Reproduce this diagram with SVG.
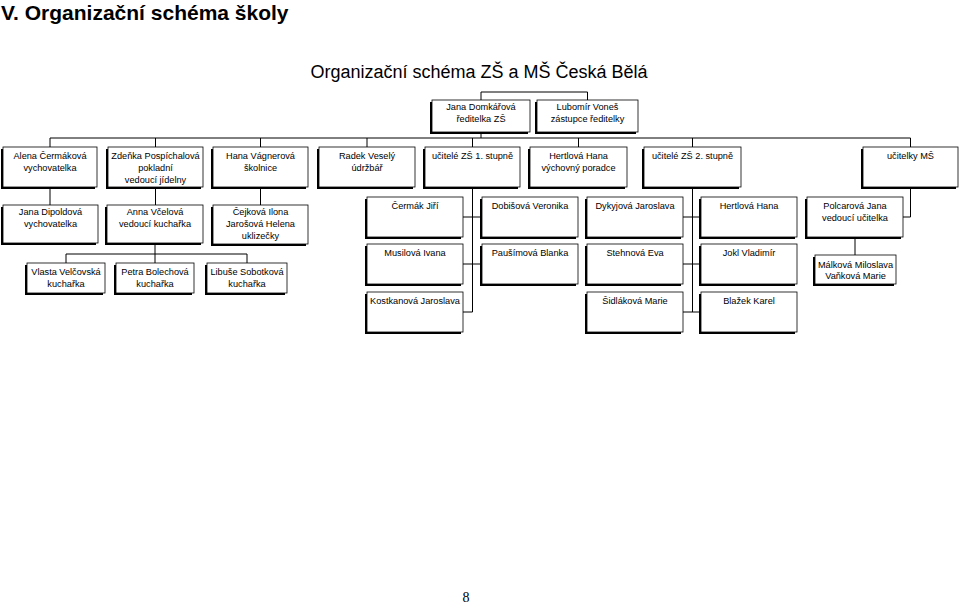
<svg xmlns="http://www.w3.org/2000/svg" width="960" height="609" viewBox="0 0 960 609">
<style>
.sh{fill:#000}
.bx{fill:#fff;stroke:#000;stroke-width:0.8}
.t{font-family:"Liberation Sans",Arial,sans-serif;font-size:9.2px;fill:#000;text-anchor:middle}
.ln{stroke:#000;stroke-width:1;fill:none}
.title{font-family:"Liberation Sans",Arial,sans-serif;font-size:21px;font-weight:bold;fill:#000}
.sub{font-family:"Liberation Sans",Arial,sans-serif;font-size:18px;fill:#000;text-anchor:middle}
.pg{font-family:"Liberation Serif","Times New Roman",serif;font-size:14px;fill:#000;text-anchor:middle}
</style>
<rect width="960" height="609" fill="#fff"/>
<text class="title" x="1" y="20">V. Organizační schéma školy</text>
<text class="sub" x="479" y="78">Organizační schéma ZŠ a MŠ Česká Bělá</text>

<g id="connectors" class="ln">
<path d="M481,100 V92 H587.5 V100"/>
<path d="M481,132 V138"/>
<path d="M50,147 V138 H910.5 V147"/>
<path d="M155.5,138 V147 M260.5,138 V147 M367,138 V147 M472.5,138 V147 M578.5,138 V147 M692.5,138 V147"/>
<path d="M50,187 V205 M155.5,187 V205 M260.5,187 V205"/>
<path d="M155,244 V254 M66,254 H247 M66,254 V263 M155,254 V263 M247,254 V263"/>
<path d="M472.5,187 V312 M463,217 H482 M463,264 H482 M463,312 H472.5"/>
<path d="M692.5,187 V312 M683,217 H701 M683,264 H701 M683,312 H701"/>
<path d="M910.5,187 V217 H903"/>
<path d="M855,237 V255"/>
</g>

<g id="n-reditelka"><rect class="sh" x="430" y="102" width="98" height="32"/><rect class="bx" x="432" y="100" width="98" height="32"/><text class="t" x="481" y="110">Jana Domkářová</text><text class="t" x="481" y="122">ředitelka ZŠ</text></g>
<g id="n-zastupce"><rect class="sh" x="535" y="102" width="101" height="32"/><rect class="bx" x="537" y="100" width="101" height="32"/><text class="t" x="587.5" y="110">Lubomír Voneš</text><text class="t" x="587.5" y="122">zástupce ředitelky</text></g>

<g id="n-cermakova"><rect class="sh" x="1" y="149" width="94" height="40"/><rect class="bx" x="3" y="147" width="94" height="40"/><text class="t" x="50" y="158.5">Alena Čermáková</text><text class="t" x="50" y="170.5">vychovatelka</text></g>
<g id="n-pospichalova"><rect class="sh" x="106" y="149" width="95" height="40"/><rect class="bx" x="108" y="147" width="95" height="40"/><text class="t" x="155.5" y="158.5">Zdeňka Pospíchalová</text><text class="t" x="155.5" y="170.5">pokladní</text><text class="t" x="155.5" y="182.5">vedoucí jídelny</text></g>
<g id="n-vagnerova"><rect class="sh" x="211" y="149" width="95" height="40"/><rect class="bx" x="213" y="147" width="95" height="40"/><text class="t" x="260.5" y="158.5">Hana Vágnerová</text><text class="t" x="260.5" y="170.5">školnice</text></g>
<g id="n-vesely"><rect class="sh" x="317" y="149" width="96" height="40"/><rect class="bx" x="319" y="147" width="96" height="40"/><text class="t" x="367" y="158.5">Radek Veselý</text><text class="t" x="367" y="170.5">údržbář</text></g>
<g id="n-zs1"><rect class="sh" x="423" y="149" width="95" height="40"/><rect class="bx" x="425" y="147" width="95" height="40"/><text class="t" x="472.5" y="158.5">učitelé ZŠ 1. stupně</text></g>
<g id="n-hertlova-poradce"><rect class="sh" x="528" y="149" width="97" height="40"/><rect class="bx" x="530" y="147" width="97" height="40"/><text class="t" x="578.5" y="158.5">Hertlová Hana</text><text class="t" x="578.5" y="170.5">výchovný poradce</text></g>
<g id="n-zs2"><rect class="sh" x="642" y="149" width="97" height="40"/><rect class="bx" x="644" y="147" width="97" height="40"/><text class="t" x="692.5" y="158.5">učitelé ZŠ 2. stupně</text></g>
<g id="n-ms"><rect class="sh" x="861" y="149" width="95" height="40"/><rect class="bx" x="863" y="147" width="95" height="40"/><text class="t" x="910.5" y="158.5">učitelky MŠ</text></g>

<g id="n-dipoldova"><rect class="sh" x="1" y="207" width="95" height="38"/><rect class="bx" x="3" y="205" width="95" height="38"/><text class="t" x="50.5" y="215">Jana Dipoldová</text><text class="t" x="50.5" y="227">vychovatelka</text></g>
<g id="n-vcelova"><rect class="sh" x="105" y="207" width="96" height="38"/><rect class="bx" x="107" y="205" width="96" height="38"/><text class="t" x="155" y="215">Anna Včelová</text><text class="t" x="155" y="227">vedoucí kuchařka</text></g>
<g id="n-uklizecky"><rect class="sh" x="211" y="207" width="95" height="39"/><rect class="bx" x="213" y="205" width="95" height="39"/><text class="t" x="260.5" y="215">Čejková Ilona</text><text class="t" x="260.5" y="227">Jarošová Helena</text><text class="t" x="260.5" y="239">uklizečky</text></g>

<g id="n-velcovska"><rect class="sh" x="25" y="265" width="78" height="30"/><rect class="bx" x="27" y="263" width="78" height="30"/><text class="t" x="66" y="274.5">Vlasta Velčovská</text><text class="t" x="66" y="286.5">kuchařka</text></g>
<g id="n-bolechova"><rect class="sh" x="114" y="265" width="78" height="30"/><rect class="bx" x="116" y="263" width="78" height="30"/><text class="t" x="155" y="274.5">Petra Bolechová</text><text class="t" x="155" y="286.5">kuchařka</text></g>
<g id="n-sobotkova"><rect class="sh" x="205" y="265" width="80" height="30"/><rect class="bx" x="207" y="263" width="80" height="30"/><text class="t" x="247" y="274.5">Libuše Sobotková</text><text class="t" x="247" y="286.5">kuchařka</text></g>

<g id="n-cermak"><rect class="sh" x="365" y="199" width="96" height="40"/><rect class="bx" x="367" y="197" width="96" height="40"/><text class="t" x="415" y="209">Čermák Jiří</text></g>
<g id="n-dobisova"><rect class="sh" x="480" y="199" width="96" height="40"/><rect class="bx" x="482" y="197" width="96" height="40"/><text class="t" x="530" y="209">Dobišová Veronika</text></g>
<g id="n-dykyjova"><rect class="sh" x="585" y="199" width="96" height="40"/><rect class="bx" x="587" y="197" width="96" height="40"/><text class="t" x="635" y="209">Dykyjová Jaroslava</text></g>
<g id="n-hertlova"><rect class="sh" x="699" y="199" width="96" height="40"/><rect class="bx" x="701" y="197" width="96" height="40"/><text class="t" x="749" y="209">Hertlová Hana</text></g>
<g id="n-polcarova"><rect class="sh" x="805" y="199" width="96" height="40"/><rect class="bx" x="807" y="197" width="96" height="40"/><text class="t" x="855" y="209">Polcarová Jana</text><text class="t" x="855" y="221">vedoucí učitelka</text></g>

<g id="n-musilova"><rect class="sh" x="365" y="246" width="96" height="40"/><rect class="bx" x="367" y="244" width="96" height="40"/><text class="t" x="415" y="256">Musilová Ivana</text></g>
<g id="n-pausimova"><rect class="sh" x="480" y="246" width="96" height="40"/><rect class="bx" x="482" y="244" width="96" height="40"/><text class="t" x="530" y="256">Paušímová Blanka</text></g>
<g id="n-stehnova"><rect class="sh" x="585" y="246" width="96" height="40"/><rect class="bx" x="587" y="244" width="96" height="40"/><text class="t" x="635" y="256">Stehnová Eva</text></g>
<g id="n-jokl"><rect class="sh" x="699" y="246" width="96" height="40"/><rect class="bx" x="701" y="244" width="96" height="40"/><text class="t" x="749" y="256">Jokl Vladimír</text></g>
<g id="n-malkova"><rect class="sh" x="813" y="257" width="81" height="29"/><rect class="bx" x="815" y="255" width="81" height="29"/><text class="t" x="855.5" y="268">Málková Miloslava</text><text class="t" x="855.5" y="279">Vaňková Marie</text></g>

<g id="n-kostkanova"><rect class="sh" x="365" y="294" width="96" height="40"/><rect class="bx" x="367" y="292" width="96" height="40"/><text class="t" x="415" y="304">Kostkanová Jaroslava</text></g>
<g id="n-sidlakova"><rect class="sh" x="585" y="294" width="96" height="40"/><rect class="bx" x="587" y="292" width="96" height="40"/><text class="t" x="635" y="304">Šidláková Marie</text></g>
<g id="n-blazek"><rect class="sh" x="699" y="294" width="96" height="40"/><rect class="bx" x="701" y="292" width="96" height="40"/><text class="t" x="749" y="304">Blažek Karel</text></g>

<text class="pg" x="466" y="602">8</text>
</svg>
